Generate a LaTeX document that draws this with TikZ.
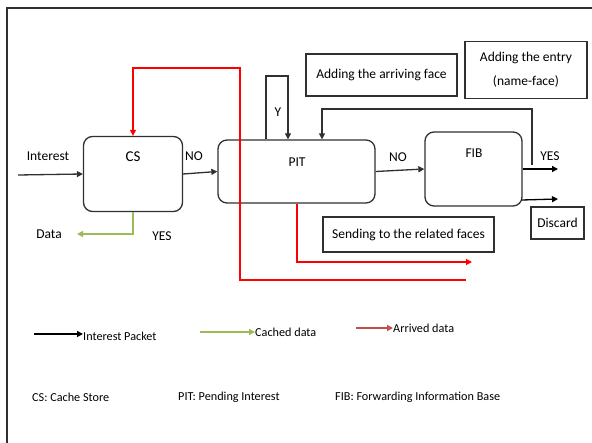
\documentclass[tikz,border=0pt]{standalone}
\usepackage{fontspec}
\setmainfont{Carlito}
\usetikzlibrary{arrows.meta}
\definecolor{lgreen}{HTML}{9BBB59}
\definecolor{dred}{HTML}{C0504D}
\definecolor{edge}{HTML}{303030}
\begin{document}
\begin{tikzpicture}[x=1pt,y=-1pt,
  every node/.style={font=\fontsize{13.5}{15}\selectfont, inner sep=0pt},
  blk/.style={draw=edge, line width=1.3pt, rounded corners=9pt},
  note/.style={draw=edge, line width=1.3pt},
  lab/.style={},
  leg/.style={font=\fontsize{12.2}{14}\selectfont},
  arr/.style={line width=1.3pt, -{Triangle[length=6pt,width=6pt]}}
]
\useasboundingbox (0,0) rectangle (592,443);
% frame
\draw[line width=1.3pt, edge] (7,443) -- (7,8) -- (592,8);
% boxes
\node[blk, minimum width=99pt, minimum height=75pt] (CS) at (133,174) {};
\node[blk, minimum width=157pt, minimum height=63pt] (PIT) at (296.5,171.5) {};
\node[blk, minimum width=97pt, minimum height=74pt] (FIB) at (473.5,169) {};
\node[lab, font=\fontsize{15}{17}\selectfont] (cst) at (133,157) {CS};
\node[lab] (pitt) at (297,162) {PIT};
\node[lab] (fibt) at (474,153) {FIB};
\node[note, minimum width=171pt, minimum height=35pt] (send) at (408.5,234.5) {Sending to the related faces};
\node[note, minimum width=53pt, minimum height=32pt] (disc) at (557.5,223) {Discard};
\node[note, minimum width=151pt, minimum height=42pt] (arrv) at (381.5,75) {Adding the arriving face};
\node[note, minimum width=122pt, minimum height=57pt, align=center, font=\fontsize{13.5}{24}\selectfont] (entry) at (526,70) {Adding the entry\\(name-face)};
% labels
\node[lab] (lint) at (48,156) {Interest};
\node[lab] (lno1) at (194,156) {NO};
\node[lab] (lno2) at (398,157) {NO};
\node[lab] (lyes) at (550,156) {YES};
\node[lab] (ly) at (278,112) {Y};
\node[lab] (ldata) at (49,234) {Data};
\node[lab] (lyes2) at (162,236) {YES};
% coordinates
\coordinate (iin) at (18,175);
\coordinate (ya) at (266,76);
\coordinate (yb) at (288,76);
\coordinate (ra) at (466,280);
\coordinate (rb) at (240,280);
\coordinate (rc) at (240,68);
\coordinate (rd) at (133,68);
\coordinate (pa) at (297,262);
\coordinate (pb) at (472,262);
\coordinate (ga) at (133,234);
\coordinate (gb) at (77,234);
\coordinate (fa) at (532,165);
\coordinate (fb) at (532,109);
\coordinate (fc) at (322,109);
\coordinate (yesend) at (558,169);
\coordinate (d0) at (522,200);
\coordinate (d1) at (558,199);
% connectors
\draw[arr, edge] (iin) -- (CS.west);
\draw[arr, edge] (CS.east) -- (PIT.west);
\draw[arr, edge] (ya |- PIT.north) -- (ya) -- (yb) -- (yb |- PIT.north);
\draw[arr, red] (ra) -- (rb) -- (rc) -- (rd) -- (CS.north);
\draw[arr, red] (pa |- PIT.south) -- (pa) -- (pb);
\draw[arr, lgreen] (CS.south) -- (ga) -- (gb);
\draw[arr, edge] (PIT.east) -- (FIB.west);
\draw[arr, edge] (fa) -- (fb) -- (fc) -- (fc |- PIT.north);
\draw[arr, black] (FIB.east) -- (yesend);
\draw[arr, black] (d0) -- (d1);
% legend
\coordinate (k1a) at (34,334);
\node[leg, anchor=west] (k1) at (83,336) {Interest Packet};
\draw[arr, black] (k1a) -- (k1.west |- k1a);
\coordinate (k2a) at (200,332);
\node[leg, anchor=west] (k2) at (255,332) {Cached data};
\draw[arr, lgreen] (k2a) -- (k2.west |- k2a);
\coordinate (k3a) at (356,328);
\node[leg, anchor=west] (k3) at (393,328) {Arrived data};
\draw[arr, dred] (k3a) -- (k3.west |- k3a);
\node[leg, anchor=west] (n1) at (32,397) {CS: Cache Store};
\node[leg, anchor=west] (n2) at (178,397) {PIT: Pending Interest};
\node[leg, anchor=west] (n3) at (335,397) {FIB: Forwarding Information Base};
\end{tikzpicture}
\end{document}
